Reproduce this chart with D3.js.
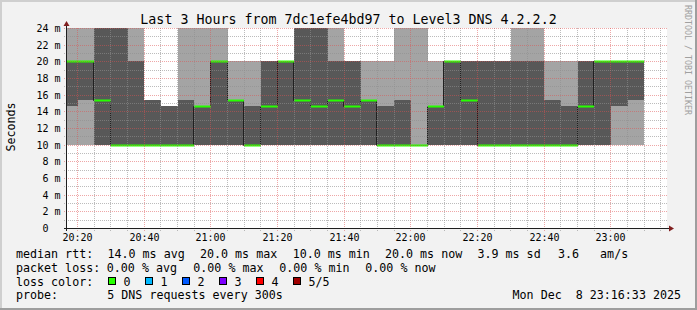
<!DOCTYPE html>
<html>
<head>
<meta charset="utf-8">
<script src="https://cdn.jsdelivr.net/npm/d3@7"></script>
<style>
html, body { margin: 0; padding: 0; background: #f2f2f2; }
svg { display: block; }
text { font-family: "DejaVu Sans Mono", monospace; white-space: pre; }
</style>
</head>
<body>
<script>
// end time of each 5 minute slot (Dec 8 2025)
const slotEnds = ["20:20","20:25","20:30","20:35","20:40","20:45","20:50","20:55","21:00","21:05",
                  "21:10","21:15","21:20","21:25","21:30","21:35","21:40","21:45","21:50","21:55",
                  "22:00","22:05","22:10","22:15","22:20","22:25","22:30","22:35","22:40","22:45",
                  "22:50","22:55","23:00","23:05","23:10"];
// the 5 sorted ping times of each slot, in ms
const ping1  = [10,10,10,10,10,10,10,10,10,10,10,10,10,10,10,10,10,10,10,10,10,10,10,10,10,10,10,10,10,10,10,10,10,10,10];
const ping2  = [14.6,15.4,10,10,10,10,10,10,10,10,10,10,10,10,10,10,10,10,10,10,10,10,10,10,10,10,10,10,10,10,10,10,10,14.6,15.4];
const median = [20,20,15.4,10,10,10,10,10,14.6,20,15.4,10,14.6,20,15.4,14.6,15.4,14.6,15.4,10,10,10,14.6,20,15.4,10,10,10,10,10,10,14.6,20,20,20];
const ping4  = [20,20,24,24,20,15.4,14.6,15.4,14.6,20,15.4,14.6,20,20,24,24,20,20,15.4,14.6,15.4,10,14.6,20,20,20,20,20,20,15.4,14.6,20,20,20,20];
const ping5  = [24,24,24,24,24,15.4,14.6,24,24,24,20,20,20,20,24,24,24,20,20,20,24,24,20,20,20,20,20,24,24,20,20,20,20,20,20];
const loss   = [0,0,0,0,0,0,0,0,0,0,0,0,0,0,0,0,0,0,0,0,0,0,0,0,0,0,0,0,0,0,0,0,0,0,0];

const yTicks = [0,2,4,6,8,10,12,14,16,18,20,22,24];
const xTicks = ["20:20","20:40","21:00","21:20","21:40","22:00","22:20","22:40","23:00"];
const lossColors = ["#26ff00","#00b8ff","#0059ff","#7e00ff","#ff0000","#a00000"];
const lossLabels = ["0","1","2","3","4","5/5"];

const title = "Last 3 Hours from 7dc1efe4bd97 to Level3 DNS 4.2.2.2";
const rttLegend  = ["14.0 ms avg","20.0 ms max","10.0 ms min","20.0 ms now","3.9 ms sd","3.6   am/s"];
const lossLegend = ["0.00 % avg","0.00 % max","0.00 % min","0.00 % now"];
const probeText = "5 DNS requests every 300s";
const stamp = "Mon Dec  8 23:16:33 2025";

const W = 697, H = 310;
const pL = 67, pR = 667, pT = 28, pB = 228;
const parse = d3.timeParse("%Y-%m-%d %H:%M:%S");
const day = "2025-12-08 ";
const t = s => parse(day + (s.length == 5 ? s + ":00" : s));

const x = d3.scaleTime().domain([t("20:16:51"), t("23:16:51")]).range([pL, pR]);
const y = d3.scaleLinear().domain([0, 24]).range([pB, pT]);

const svg = d3.select("body").append("svg").attr("width", W).attr("height", H);

// background + 3d frame
svg.append("rect").attr("width", W).attr("height", H).attr("fill", "#f2f2f2");
svg.append("rect").attr("x", 0).attr("y", 0).attr("width", W).attr("height", 2).attr("fill", "#cfcfcf");
svg.append("rect").attr("x", 0).attr("y", 0).attr("width", 2).attr("height", H).attr("fill", "#cfcfcf");
svg.append("rect").attr("x", 0).attr("y", H - 2).attr("width", W).attr("height", 2).attr("fill", "#9e9e9e");
svg.append("rect").attr("x", W - 2).attr("y", 0).attr("width", 2).attr("height", H).attr("fill", "#9e9e9e");

svg.append("rect").attr("x", pL).attr("y", pT).attr("width", pR - pL).attr("height", pB - pT).attr("fill", "#fff");

const slots = slotEnds.map((s, i) => {
	const end = t(s);
	return {
		x0: Math.max(pL, Math.round(x(d3.timeMinute.offset(end, -5)))),
		x1: Math.round(x(end)),
		p1: ping1[i], p2: ping2[i], med: median[i], p4: ping4[i], p5: ping5[i], loss: loss[i]
	};
});

const plot = svg.append("g");

// outer smoke (ping1..ping5)
plot.selectAll("rect.outer")
	.data(slots)
	.join("rect")
	.attr("class", "outer")
	.attr("x", d => d.x0)
	.attr("width", d => d.x1 - d.x0)
	.attr("y", d => Math.round(y(d.p5)))
	.attr("height", d => Math.round(y(d.p1)) - Math.round(y(d.p5)))
	.attr("fill", "#a4a4a4");

// inner smoke (ping2..ping4)
plot.selectAll("rect.inner")
	.data(slots)
	.join("rect")
	.attr("class", "inner")
	.attr("x", d => d.x0)
	.attr("width", d => d.x1 - d.x0)
	.attr("y", d => Math.round(y(d.p4)))
	.attr("height", d => Math.round(y(d.p2)) - Math.round(y(d.p4)))
	.attr("fill", "#585858");

// median step line
const pts = slots.flatMap(d => [[d.x0, y(d.med)], [d.x1, y(d.med)]]);
plot.append("path")
	.attr("d", d3.line()(pts.map(p => [p[0] - 0.5, Math.round(p[1]) + 0.5])))
	.attr("fill", "none")
	.attr("stroke", "#202020")
	.attr("stroke-width", 1);

// median coloured by loss
plot.selectAll("rect.med")
	.data(slots)
	.join("rect")
	.attr("class", "med")
	.attr("x", d => d.x0)
	.attr("width", d => d.x1 - d.x0)
	.attr("y", d => Math.round(y(d.med)) - 0.5)
	.attr("height", 2)
	.attr("fill", d => lossColors[d.loss]);

// grid on top
const grid = svg.append("g");
const minorT = d3.timeMinute.every(5).range(x.domain()[0], x.domain()[1]);
const majorSet = new Set(xTicks);
const fmt = d3.timeFormat("%H:%M");
const minorCol = "rgba(143,143,143,0.6)", majorCol = "rgba(222,79,79,0.5)";
minorT.forEach(d => {
	const px = Math.floor(x(d)) + 0.5;
	const major = majorSet.has(fmt(d));
	grid.append("line")
		.attr("x1", px).attr("x2", px).attr("y1", pT).attr("y2", pB + 3)
		.attr("stroke", major ? majorCol : minorCol)
		.attr("stroke-dasharray", "1,1");
});
d3.range(1, 25).forEach(v => {
	const py = Math.round(y(v)) + 0.5;
	const major = yTicks.includes(v);
	grid.append("line")
		.attr("x1", pL - 3).attr("x2", pR).attr("y1", py).attr("y2", py)
		.attr("stroke", major ? majorCol : minorCol)
		.attr("stroke-dasharray", "1,1");
});

// axes
svg.append("line").attr("x1", pL - 0.5).attr("x2", pL - 0.5).attr("y1", pB + 3).attr("y2", pT - 3)
	.attr("stroke", "#1f1f1f");
svg.append("line").attr("x1", pL - 3).attr("x2", pR + 3).attr("y1", pB + 0.5).attr("y2", pB + 0.5)
	.attr("stroke", "#1f1f1f");
svg.append("path").attr("d", `M${pL - 0.5},${pT - 7} L${pL - 3.5},${pT - 2} L${pL + 2.5},${pT - 2} Z`).attr("fill", "#801f1f");
svg.append("path").attr("d", `M${pR + 7},${pB + 0.5} L${pR + 2},${pB - 2.5} L${pR + 2},${pB + 3.5} Z`).attr("fill", "#801f1f");

// tick labels
svg.selectAll("text.ylab")
	.data(yTicks)
	.join("text")
	.attr("class", "ylab")
	.attr("x", 60.5)
	.attr("y", d => Math.round(y(d)) + 4)
	.attr("text-anchor", "end")
	.attr("font-size", 10)
	.text(d => d == 0 ? "0  " : d + " m");

svg.selectAll("text.xlab")
	.data(xTicks)
	.join("text")
	.attr("class", "xlab")
	.attr("x", d => Math.floor(x(t(d))) + 0.5)
	.attr("y", 241)
	.attr("text-anchor", "middle")
	.attr("font-size", 10)
	.text(d => d);

// title and side texts
svg.append("text").attr("x", 348.5).attr("y", 23.5).attr("text-anchor", "middle")
	.attr("font-size", 13.3).text(title);
svg.append("text").attr("transform", "translate(14.5,127) rotate(-90)").attr("text-anchor", "middle")
	.attr("font-size", 11.66).text("Seconds");
svg.append("text").attr("transform", "translate(685,5) rotate(90)").attr("text-anchor", "start")
	.attr("font-size", 8.3).attr("fill", "#a0a0a0").text("RRDTOOL / TOBI OETIKER");

// legend
const fs = 11.66;
const leg = svg.append("g").attr("font-size", fs);
const lineY = [258, 271.8, 285.6, 299.4];
leg.append("text").attr("x", 16).attr("y", lineY[0]).text("median rtt:");
const rttX = [107.5, 200, 292.7, 385, 477.5, 558];
rttLegend.forEach((s, i) => leg.append("text").attr("x", rttX[i]).attr("y", lineY[0]).text(s));
leg.append("text").attr("x", 16).attr("y", lineY[1]).text("packet loss:");
const lossX = [106.8, 193.3, 279.3, 365.3];
lossLegend.forEach((s, i) => leg.append("text").attr("x", lossX[i]).attr("y", lineY[1]).text(s));
leg.append("text").attr("x", 16).attr("y", lineY[2]).text("loss color:");
const boxX = [108.5, 145.5, 182.5, 219.5, 256.5, 293.5];
lossColors.forEach((c, i) => {
	leg.append("rect").attr("x", boxX[i]).attr("y", 277.5).attr("width", 7).attr("height", 7)
		.attr("fill", c).attr("stroke", "#000").attr("stroke-width", 1);
	leg.append("text").attr("x", boxX[i] + 15).attr("y", lineY[2]).text(lossLabels[i]);
});
leg.append("text").attr("x", 16).attr("y", lineY[3]).text("probe:");
leg.append("text").attr("x", 107.3).attr("y", lineY[3]).text(probeText);
leg.append("text").attr("x", 681).attr("y", lineY[3]).attr("text-anchor", "end").text(stamp);
</script>
</body>
</html>
